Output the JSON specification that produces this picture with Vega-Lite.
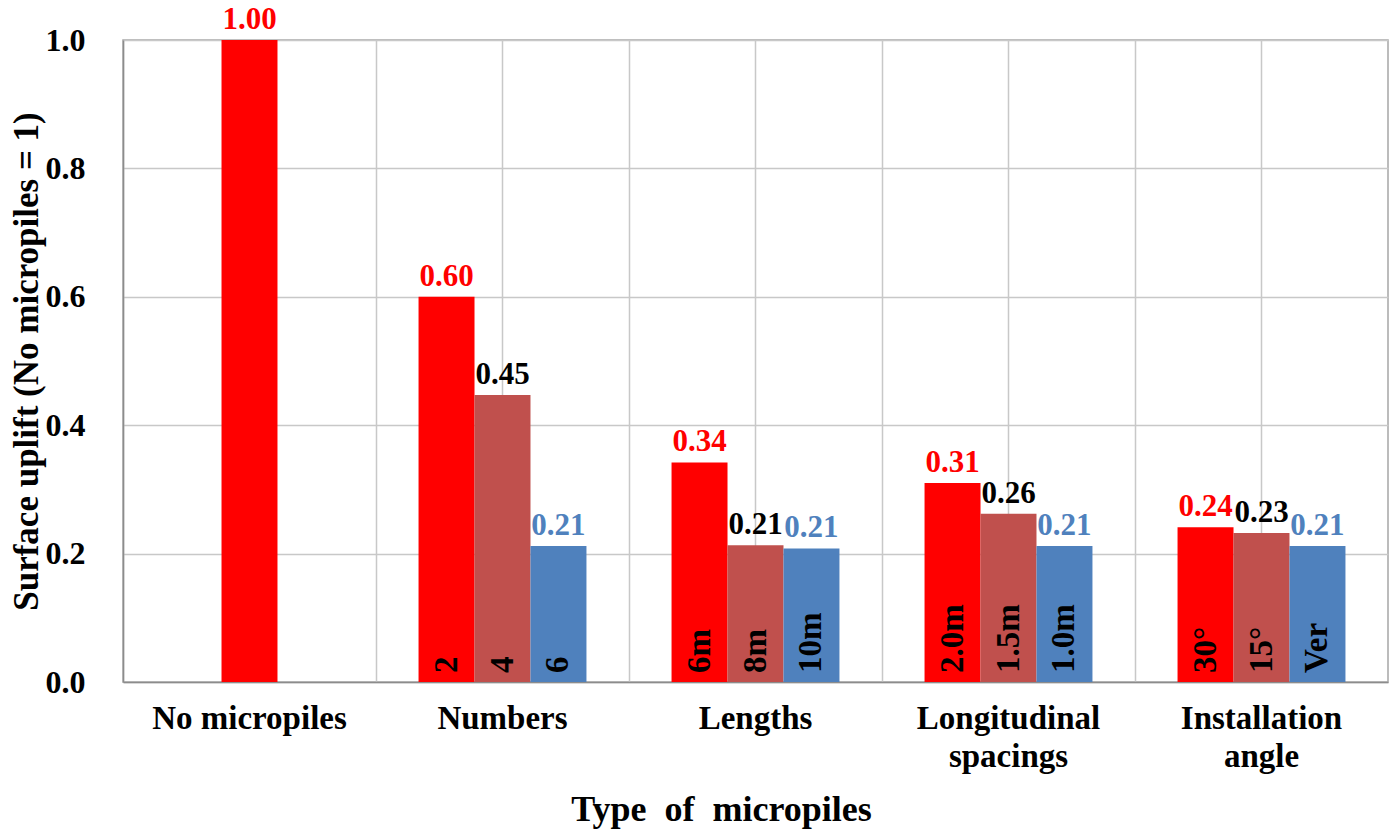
{
  "$schema": "https://vega.github.io/schema/vega-lite/v6.json",
  "width": 1265,
  "height": 642,
  "autosize": {"type": "none"},
  "padding": {"left": 123, "top": 40, "right": 4, "bottom": 147},
  "background": "white",
  "config": {
    "view": {"stroke": "#a6a6a6", "strokeWidth": 1.5},
    "font": "Liberation Serif"
  },
  "data": {
    "values": [
      {"group": "No micropiles", "slot": "b", "series": "s1", "value": 1.0, "tag": ""},
      {"group": "Numbers", "slot": "a", "series": "s1", "value": 0.6, "tag": "2"},
      {"group": "Numbers", "slot": "b", "series": "s2", "value": 0.447, "tag": "4"},
      {"group": "Numbers", "slot": "c", "series": "s3", "value": 0.212, "tag": "6"},
      {"group": "Lengths", "slot": "a", "series": "s1", "value": 0.342, "tag": "6m"},
      {"group": "Lengths", "slot": "b", "series": "s2", "value": 0.213, "tag": "8m"},
      {"group": "Lengths", "slot": "c", "series": "s3", "value": 0.208, "tag": "10m"},
      {"group": "Longitudinal spacings", "slot": "a", "series": "s1", "value": 0.31, "tag": "2.0m"},
      {"group": "Longitudinal spacings", "slot": "b", "series": "s2", "value": 0.262, "tag": "1.5m"},
      {"group": "Longitudinal spacings", "slot": "c", "series": "s3", "value": 0.212, "tag": "1.0m"},
      {"group": "Installation angle", "slot": "a", "series": "s1", "value": 0.241, "tag": "30°"},
      {"group": "Installation angle", "slot": "b", "series": "s2", "value": 0.232, "tag": "15°"},
      {"group": "Installation angle", "slot": "c", "series": "s3", "value": 0.212, "tag": "Ver"}
    ]
  },
  "encoding": {
    "y": {
      "field": "value",
      "type": "quantitative",
      "scale": {"domain": [0, 1], "nice": false},
      "axis": {
        "values": [0, 0.2, 0.4, 0.6, 0.8, 1.0],
        "format": ".1f",
        "labelFont": "Liberation Serif",
        "labelFontSize": 32,
        "labelFontWeight": "bold",
        "labelColor": "black",
        "labelPadding": 38,
        "ticks": false,
        "grid": true,
        "gridColor": "#c8c8c8",
        "gridWidth": 1.5,
        "domainColor": "#8c8c8c",
        "domainWidth": 1.5,
        "title": "Surface uplift (No micropiles = 1)",
        "titleFont": "Liberation Serif",
        "titleFontSize": 35,
        "titleFontWeight": "bold",
        "titleColor": "black",
        "titleX": -97,
        "titleBaseline": "middle"
      }
    }
  },
  "resolve": {"axis": {"x": "independent"}, "scale": {"color": "independent"}},
  "layer": [
    {
      "mark": {"type": "bar"},
      "encoding": {
        "x": {
          "field": "group",
          "type": "nominal",
          "sort": ["No micropiles", "Numbers", "Lengths", "Longitudinal spacings", "Installation angle"],
          "scale": {"paddingInner": 0, "paddingOuter": 0},
          "axis": {
            "orient": "bottom",
            "labelAngle": 0,
            "labelFont": "Liberation Serif",
            "labelFontSize": 33,
            "labelFontWeight": "bold",
            "labelColor": "black",
            "labelLimit": 0,
            "labelPadding": 20,
            "labelLineHeight": 38,
            "labelBaseline": "top",
            "labelExpr": "(datum.label == 'Longitudinal spacings' || datum.label == 'Installation angle') ? split(datum.label, ' ') : datum.label",
            "ticks": false,
            "grid": true,
            "gridColor": "#c8c8c8",
            "gridWidth": 1.5,
            "domainColor": "#8c8c8c",
            "domainWidth": 1.5,
            "title": "Type\u00a0 of\u00a0 micropiles",
            "titleFont": "Liberation Serif",
            "titleFontSize": 36,
            "titleFontWeight": "bold",
            "titleColor": "black",
            "titleX": 598,
            "titleY": 138,
            "titleBaseline": "alphabetic"
          }
        },
        "xOffset": {"field": "slot", "type": "nominal", "scale": {"domain": ["a", "b", "c"], "paddingInner": 0, "paddingOuter": 0.76}},
        "color": {
          "field": "series",
          "type": "nominal",
          "scale": {"domain": ["s1", "s2", "s3"], "range": ["#FF0000", "#C0504D", "#4F81BD"]},
          "legend": null
        }
      }
    },
    {
      "mark": {"type": "text", "baseline": "alphabetic", "dy": -11, "fontSize": 31, "fontWeight": "bold", "font": "Liberation Serif"},
      "encoding": {
        "x": {
          "field": "group",
          "type": "nominal",
          "sort": ["No micropiles", "Numbers", "Lengths", "Longitudinal spacings", "Installation angle"],
          "axis": {
            "orient": "top",
            "grid": true,
            "bandPosition": 0,
            "gridColor": "#c8c8c8",
            "gridWidth": 1.5,
            "labels": false,
            "ticks": false,
            "domain": false,
            "title": null
          }
        },
        "xOffset": {"field": "slot", "type": "nominal"},
        "text": {"field": "value", "type": "quantitative", "format": ".2f"},
        "color": {
          "field": "series",
          "type": "nominal",
          "scale": {"domain": ["s1", "s2", "s3"], "range": ["#FF0000", "#000000", "#4F81BD"]},
          "legend": null
        }
      }
    },
    {
      "mark": {"type": "text", "angle": 270, "align": "left", "baseline": "middle", "dx": 9, "fontSize": 33, "fontWeight": "bold", "font": "Liberation Serif", "color": "black"},
      "encoding": {
        "x": {
          "field": "group",
          "type": "nominal",
          "sort": ["No micropiles", "Numbers", "Lengths", "Longitudinal spacings", "Installation angle"],
          "axis": null
        },
        "xOffset": {"field": "slot", "type": "nominal"},
        "y": {"datum": 0, "type": "quantitative"},
        "text": {"field": "tag", "type": "nominal"}
      }
    }
  ]
}
